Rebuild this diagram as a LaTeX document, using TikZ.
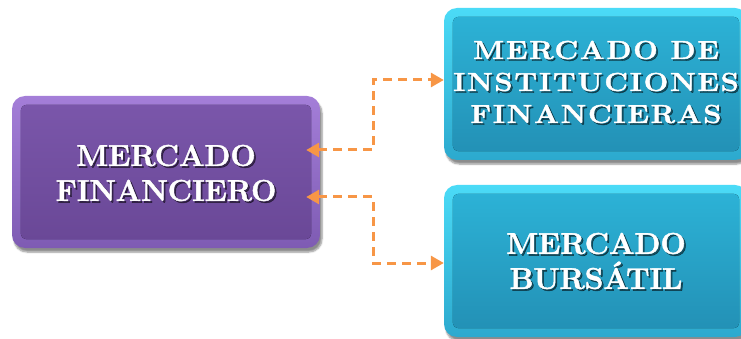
\documentclass[tikz,border=0pt]{standalone}
\usepackage{fontspec}
\usetikzlibrary{arrows.meta,calc,shadows.blur}
\newfontfamily\boxfont[BoldFeatures={FakeBold=1.5}]{Latin Modern Roman}
\definecolor{purOut}{HTML}{A47ED8}
\definecolor{purOutB}{HTML}{7E5BB3}
\definecolor{purInT}{HTML}{7A56AA}
\definecolor{purInB}{HTML}{6A4897}
\definecolor{cyOut}{HTML}{4BDBF7}
\definecolor{cyOutB}{HTML}{2CA9CE}
\definecolor{cyInT}{HTML}{2CB2D6}
\definecolor{cyInB}{HTML}{2391B6}
\definecolor{arrOr}{HTML}{F79646}
\tikzset{
  boxbase/.style={rectangle, rounded corners=13pt, minimum height=152pt, inner sep=0pt,
    blur shadow={shadow xshift=2pt, shadow yshift=-4pt, shadow blur steps=6, shadow opacity=45}},
  purbox/.style={boxbase, minimum width=308pt, top color=purOut, bottom color=purOutB},
  cybox/.style={boxbase, minimum width=304pt, top color=cyOut, bottom color=cyOutB},
  purin/.style={rounded corners=6pt, top color=purInT, bottom color=purInB},
  cyin/.style={rounded corners=6pt, top color=cyInT, bottom color=cyInB},
  txt/.style={text=white, align=center, inner sep=0pt},
  txtsh/.style={txt, text=black, opacity=0.5},
  conn/.style={draw=arrOr, line width=3pt, dash pattern=on 9pt off 6pt,
    {Triangle[length=13pt,width=14pt]}-{Triangle[length=13pt,width=14pt]}},
}
\newcommand{\bigfont}{\boxfont\bfseries\fontsize{30}{35}\selectfont}
\newcommand{\midfont}{\boxfont\bfseries\fontsize{26}{32}\selectfont\addfontfeature{LetterSpace=6}}
\begin{document}
\begin{tikzpicture}[x=1pt,y=-1pt]
\useasboundingbox (0,0) rectangle (741,339);
% boxes
\node[purbox] (main) at (166,172) {};
\fill[purin] ($(main.north west)+(9,9)$) rectangle ($(main.south east)+(-9,-9)$);
\node[cybox] (top) at (596,84) {};
\fill[cyin] ($(top.north west)+(9,9)$) rectangle ($(top.south east)+(-9,-9)$);
\node[cybox] (bot) at (596,261) {};
\fill[cyin] ($(bot.north west)+(9,9)$) rectangle ($(bot.south east)+(-9,-9)$);
% texts (shadow, then white)
\node[txtsh, font=\bigfont] (mainS) at ($(main)+(1.8,2.8)$) {MERCADO\\FINANCIERO};
\node[txt, font=\bigfont] (mainT) at ($(main)+(0,1)$) {MERCADO\\FINANCIERO};
\node[txtsh, font=\midfont, transform shape, xscale=1.12] (topS) at ($(top)+(1.8,-0.2)$) {MERCADO DE\\INSTITUCIONES\\FINANCIERAS};
\node[txt, font=\midfont, transform shape, xscale=1.12] (topT) at ($(top)+(0,-2)$) {MERCADO DE\\INSTITUCIONES\\FINANCIERAS};
\node[txtsh, font=\bigfont] (botS) at ($(bot)+(1.8,1.8)$) {MERCADO\\BURSÁTIL};
\node[txt, font=\bigfont] (botT) at (bot) {MERCADO\\BURSÁTIL};
% connectors
\draw[conn] ([xshift=-14pt,yshift=22pt]main.east) -- ++(67,0) |- ([yshift=4pt]top.west);
\draw[conn] ([xshift=-14pt,yshift=-25pt]main.east) -- ++(67,0) |- ([yshift=-2pt]bot.west);
\end{tikzpicture}
\end{document}
